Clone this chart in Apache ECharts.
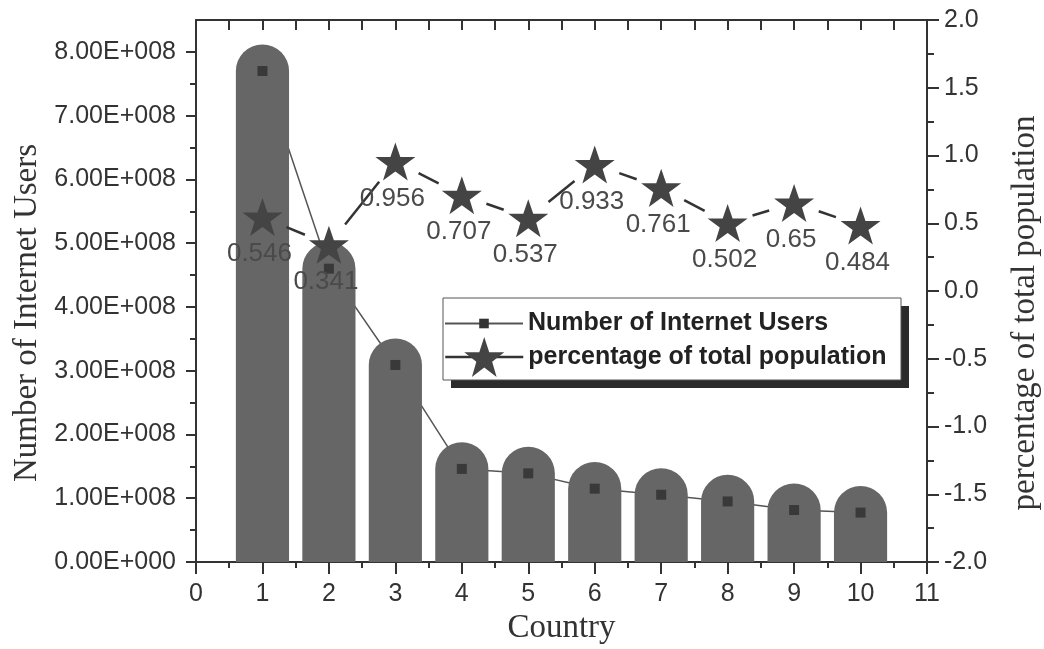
<!DOCTYPE html>
<html><head><meta charset="utf-8">
<script src="https://cdn.jsdelivr.net/npm/echarts@6/dist/echarts.min.js"></script>
<style>html,body{margin:0;padding:0;background:#fff}#c{width:1044px;height:649px}</style>
</head><body><div id="c"></div>
<script>
const countries = [1, 2, 3, 4, 5, 6, 7, 8, 9, 10];
const internetUsers = [7.70e8, 4.60e8, 3.09e8, 1.46e8, 1.39e8, 1.15e8, 1.055e8, 0.95e8, 0.815e8, 0.775e8];
const pctOfPopulation = [0.546, 0.341, 0.956, 0.707, 0.537, 0.933, 0.761, 0.502, 0.65, 0.484];
const xTickLabels = ['0','1','2','3','4','5','6','7','8','9','10','11'];
const leftTickLabels = ['0.00E+000','1.00E+008','2.00E+008','3.00E+008','4.00E+008','5.00E+008','6.00E+008','7.00E+008','8.00E+008'];
const rightTickLabels = ['-2.0','-1.5','-1.0','-0.5','0.0','0.5','1.0','1.5','2.0'];
const seriesNames = ['Number of Internet Users', 'percentage of total population'];
const axisTitles = { x: 'Country', left: 'Number of Internet Users', right: 'percentage of total population' };

const usersData = countries.map((c, i) => [c, internetUsers[i]]);
const pctData = countries.map((c, i) => [c, pctOfPopulation[i]]);
const STAR = 'path://M50,0 L61.8,34.5 L97.6,34.5 L68.8,55.9 L79.4,90.5 L50,69.1 L20.6,90.5 L31.2,55.9 L2.4,34.5 L38.2,34.5 Z';
const AX = '#333';
const tickFont = { fontFamily: 'Liberation Sans', fontSize: 25, color: '#333' };
const titleFont = { fontFamily: 'Liberation Serif', fontSize: 33, color: '#333' };

const chart = echarts.init(document.getElementById('c'), null, { renderer: 'canvas' });
chart.setOption({
  animation: false,
  backgroundColor: '#fff',
  grid: { left: 196, right: 117, top: 20, bottom: 87, outerBoundsMode: 'none', containLabel: false },
  xAxis: [
    { type: 'value', position: 'bottom', min: 0, max: 11, interval: 1,
      name: axisTitles.x, nameLocation: 'middle', nameGap: 48, nameTextStyle: titleFont,
      axisLine: { show: true, onZero: false, lineStyle: { color: AX, width: 2 } },
      axisTick: { show: true, inside: false, length: 12, lineStyle: { color: AX, width: 2 } },
      minorTick: { show: true, splitNumber: 2, length: 6, lineStyle: { color: AX, width: 2 } },
      splitLine: { show: false }, minorSplitLine: { show: false },
      axisLabel: Object.assign({ margin: 20, formatter: v => xTickLabels[Math.round(v)] ?? '' }, tickFont) },
    { type: 'value', position: 'top', min: 0, max: 11, interval: 1,
      axisLine: { show: true, onZero: false, lineStyle: { color: AX, width: 2 } },
      axisTick: { show: true, inside: true, length: 10, lineStyle: { color: AX, width: 2 } },
      minorTick: { show: true, splitNumber: 2, length: 10, lineStyle: { color: AX, width: 2 } },
      splitLine: { show: false }, axisLabel: { show: false } }
  ],
  yAxis: [
    { type: 'value', position: 'left', min: 0, max: 8.5e8, interval: 1e8,
      name: axisTitles.left, nameLocation: 'middle', nameGap: 150,
      nameTextStyle: Object.assign({ padding: [0, 44, 0, 0] }, titleFont),
      axisLine: { show: true, onZero: false, lineStyle: { color: AX, width: 2 } },
      axisTick: { show: true, inside: false, length: 10, customValues: leftTickLabels.map((_, i) => i * 1e8), lineStyle: { color: AX, width: 2 } },
      splitLine: { show: false },
      axisLabel: Object.assign({ margin: 20, customValues: leftTickLabels.map((_, i) => i * 1e8),
        formatter: v => { const i = Math.round(v / 1e8); return Math.abs(v - i * 1e8) < 1 ? (leftTickLabels[i] ?? '') : ''; } }, tickFont) },
    { type: 'value', position: 'right', min: -2, max: 2, interval: 0.5,
      name: axisTitles.right, nameLocation: 'middle', nameGap: 82,
      nameTextStyle: Object.assign({ padding: [0, 44, 0, 0] }, titleFont),
      axisLine: { show: true, onZero: false, lineStyle: { color: AX, width: 2 } },
      axisTick: { show: true, inside: false, length: 12, lineStyle: { color: AX, width: 2 } },
      minorTick: { show: true, splitNumber: 2, length: 7, lineStyle: { color: AX, width: 2 } },
      splitLine: { show: false },
      axisLabel: Object.assign({ margin: 17, formatter: v => rightTickLabels[Math.round((v + 2) / 0.5)] ?? '' }, tickFont) },
    { type: 'value', position: 'left', min: 0, max: 8.5e8, interval: 0.5e8,
      axisLine: { show: false, onZero: false },
      axisTick: { show: true, inside: false, length: 6, customValues: leftTickLabels.slice(1).map((_, i) => (i + 0.5) * 1e8), lineStyle: { color: AX, width: 2 } },
      axisLabel: { show: false }, splitLine: { show: false } }
  ],
  legend: [
    { data: [seriesNames[0]], left: 444, top: 311, padding: 0, itemWidth: 78, itemHeight: 12,
      selectedMode: false, z: 20,
      textStyle: { fontFamily: 'Liberation Sans', fontSize: 25, fontWeight: 'bold', color: '#222' } },
    { data: [{ name: seriesNames[1], lineStyle: { color: '#333', width: 2.5, opacity: 1, type: 'solid' } }],
      left: 444, top: 337, padding: 0, itemWidth: 78, itemHeight: 50,
      selectedMode: false, z: 20,
      textStyle: { fontFamily: 'Liberation Sans', fontSize: 25, fontWeight: 'bold', color: '#222' } }
  ],
  graphic: [
    { type: 'rect', z: 8, shape: { x: 451, y: 306, width: 458, height: 82 }, style: { fill: '#2b2b2b' } },
    { type: 'rect', z: 9, shape: { x: 443, y: 298, width: 458, height: 82 }, style: { fill: '#fff', stroke: '#555', lineWidth: 1 } }
  ],
  series: [
    { name: seriesNames[0], type: 'line', xAxisIndex: 0, yAxisIndex: 0, data: usersData, z: 1,
      symbol: 'rect', symbolSize: 10, showSymbol: false,
      lineStyle: { color: '#555', width: 1.5 }, itemStyle: { color: '#333' } },
    { name: 'bars', type: 'custom', xAxisIndex: 0, yAxisIndex: 0, data: usersData, z: 2,
      renderItem: (params, api) => {
        const x = api.value(0), y = api.value(1);
        const top = api.coord([x, y]);
        const base = api.coord([x, 0]);
        const w = api.size([0.8, 0])[0];
        const r = w / 2;
        return { type: 'rect', shape: { x: top[0] - r, y: top[1] - r, width: w, height: base[1] - top[1] + r, r: [r, r, 0, 0] },
          style: { fill: '#666666' } };
      } },
    { name: 'users-markers', type: 'scatter', xAxisIndex: 0, yAxisIndex: 0, data: usersData, z: 3,
      symbol: 'rect', symbolSize: 10, itemStyle: { color: '#2e2e2e' } },
    { name: 'pct-segments', type: 'custom', xAxisIndex: 0, yAxisIndex: 1, data: pctData, z: 4,
      renderItem: (params, api) => {
        const i = params.dataIndex;
        if (i >= countries.length - 1) return null;
        const p0 = api.coord([countries[i], pctOfPopulation[i]]);
        const p1 = api.coord([countries[i + 1], pctOfPopulation[i + 1]]);
        const dx = p1[0] - p0[0], dy = p1[1] - p0[1];
        const len = Math.hypot(dx, dy), gap = 26;
        if (len <= 2 * gap) return null;
        const ux = dx / len, uy = dy / len;
        return { type: 'line', shape: { x1: p0[0] + ux * gap, y1: p0[1] + uy * gap, x2: p1[0] - ux * gap, y2: p1[1] - uy * gap },
          style: { stroke: '#333', lineWidth: 2.5 } };
      } },
    { name: seriesNames[1], type: 'line', xAxisIndex: 0, yAxisIndex: 1, data: pctData, z: 5,
      symbol: STAR, symbolSize: 40, symbolKeepAspect: true, showSymbol: true,
      lineStyle: { width: 0, opacity: 0 }, itemStyle: { color: '#444' },
      label: { show: true, position: 'bottom', distance: 5, offset: [-3, 0],
        fontFamily: 'Liberation Sans', fontSize: 26, color: '#4a4a4a',
        formatter: p => String(p.value[1]) } }
  ]
});
</script></body></html>
